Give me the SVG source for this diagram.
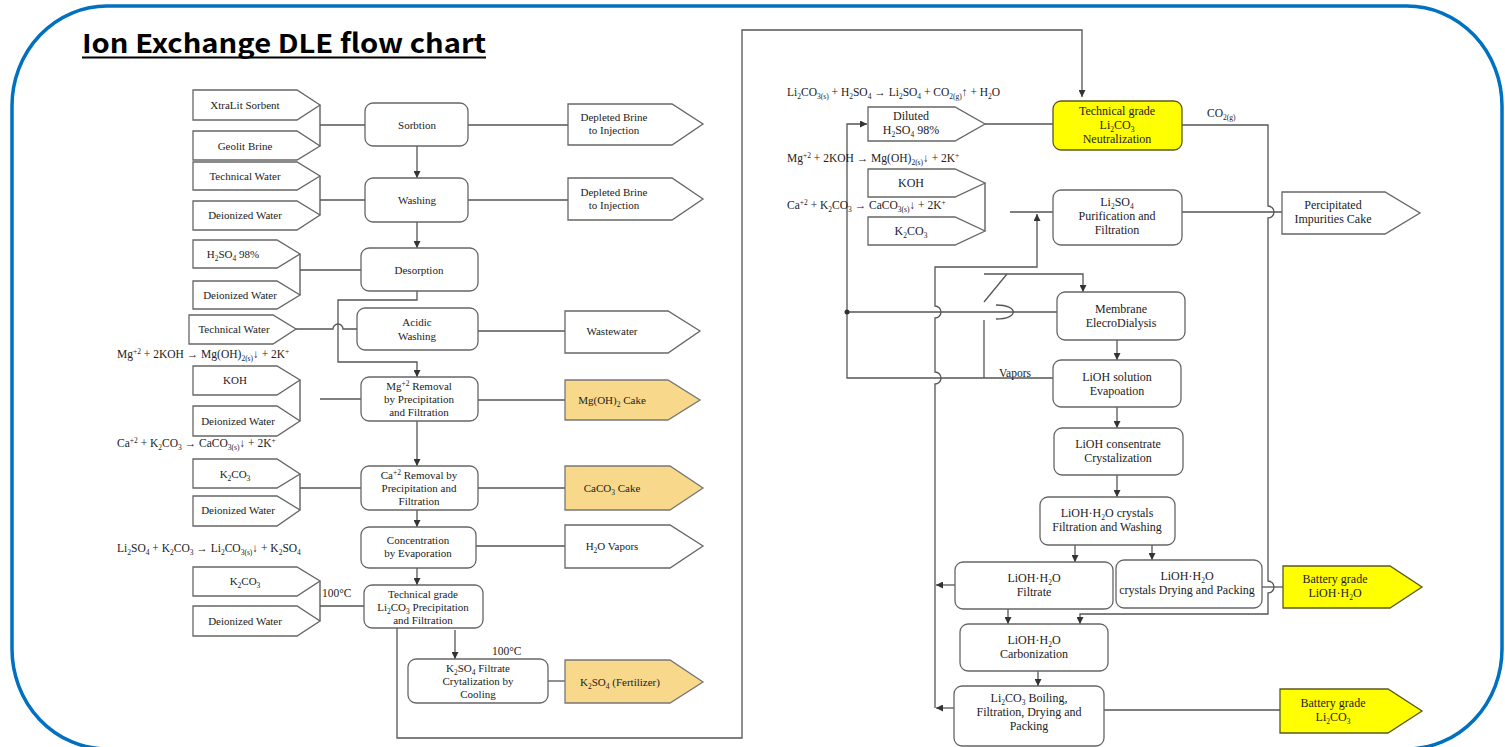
<svg xmlns="http://www.w3.org/2000/svg" width="1505" height="747" viewBox="0 0 1505 747">
<defs>
<style>
.ln{fill:none;stroke:#555;stroke-width:1.3}
.bx{fill:#fff;stroke:#666;stroke-width:1.3}
.pt{fill:#fff;stroke:#666;stroke-width:1.3}
.tan{fill:#F8D98C;stroke:#777;stroke-width:1.3}
.yl{fill:#FFFF00;stroke:#5a5a1e;stroke-width:1.3}
.t{font-family:"Liberation Serif","Times New Roman",serif;font-size:11px;fill:#222;text-anchor:middle}
.r{font-size:12px}
.eq{font-family:"Liberation Serif","Times New Roman",serif;font-size:11.5px;fill:#222}
.s{font-size:7.5px;baseline-shift:-2.5px}
.p{font-size:7.5px;baseline-shift:4px}
.title{font-family:"Noto Sans CJK KR","Noto Sans",sans-serif;font-weight:bold;font-size:26px;fill:#000}
</style>
<marker id="ar" viewBox="0 0 10 10" refX="10" refY="5" markerWidth="7" markerHeight="7" markerUnits="userSpaceOnUse" orient="auto">
<path d="M0,0 L10,5 L0,10 z" fill="#333"/>
</marker>
</defs>
<rect width="1505" height="747" fill="#fff"/>
<rect x="12" y="6" width="1490" height="743" rx="95" ry="100" fill="none" stroke="#0070C0" stroke-width="3.5"/>
<g id="title">
<text class="title" x="82" y="53" textLength="404" lengthAdjust="spacingAndGlyphs">Ion Exchange DLE flow chart</text>
<line x1="82" y1="57.5" x2="486" y2="57.5" stroke="#000" stroke-width="2"/>
</g>

<g id="connectors">
<path class="ln" d="M320 105 V146 M320 125 H365"/>
<path class="ln" d="M468 125 H568"/>
<path class="ln" d="M417 146 V178" marker-end="url(#ar)"/>
<path class="ln" d="M320 176 V215 M320 200 H365"/>
<path class="ln" d="M468 200 H568"/>
<path class="ln" d="M417 222 V248" marker-end="url(#ar)"/>
<path class="ln" d="M300 254 V295 M300 270 H361"/>
<path class="ln" d="M417 291 V300 H338 V362 H417 V377" marker-end="url(#ar)"/>
<path class="ln" d="M296 329 H333 A5 5 0 0 1 343 329 H357"/>
<path class="ln" d="M478 331 H565"/>
<path class="ln" d="M300 380 V421 M320 399 H361"/>
<path class="ln" d="M478 400 H565"/>
<path class="ln" d="M417 421 V466" marker-end="url(#ar)"/>
<path class="ln" d="M300 474 V510 M300 488 H361"/>
<path class="ln" d="M478 488 H565"/>
<path class="ln" d="M417 510 V527" marker-end="url(#ar)"/>
<path class="ln" d="M476 546 H565"/>
<path class="ln" d="M417 568 V585" marker-end="url(#ar)"/>
<path class="ln" d="M320 581 V621 M320 606 H364"/>
<path class="ln" d="M455 630 V659" marker-end="url(#ar)"/>
<path class="ln" d="M548 681 H565"/>
<path class="ln" d="M397 628 V738 H742 V30 H1082 V97" marker-end="url(#ar)"/>

<path class="ln" d="M985 124 H1053"/>
<path class="ln" d="M1182 125 H1268 V206 A6 6 0 0 1 1268 218 V581 A6 6 0 0 1 1268 593 V614 H1080 V624" marker-end="url(#ar)"/>
<path class="ln" d="M1182 212 H1283"/>
<path class="ln" d="M985 183 V231"/>
<path class="ln" d="M1010 212 H1053"/>
<path class="ln" d="M935 708 V384 A6 6 0 0 0 935 372 V318 A6 6 0 0 0 935 306 V267 H1037 V214" marker-end="url(#ar)"/>
<path class="ln" d="M955 585 H936" marker-end="url(#ar)"/>
<path class="ln" d="M954 708 H936" marker-end="url(#ar)"/>
<path class="ln" d="M1053 378 H847 V124 H867" marker-end="url(#ar)"/>
<path class="ln" d="M847 312 H1057"/>
<path class="ln" d="M996 305 C1019 305 1019 319 996 319"/>
<circle cx="847" cy="312" r="2.5" fill="#333"/>
<path class="ln" d="M984 320 V378"/>
<path class="ln" d="M984 302 L1007 274"/>
<path class="ln" d="M984 274 H1083 V292" marker-end="url(#ar)"/>
<path class="ln" d="M1117 340 V360" marker-end="url(#ar)"/>
<path class="ln" d="M1117 407 V428" marker-end="url(#ar)"/>
<path class="ln" d="M1117 475 V497" marker-end="url(#ar)"/>
<path class="ln" d="M1075 545 V562" marker-end="url(#ar)"/>
<path class="ln" d="M1152 545 V560" marker-end="url(#ar)"/>
<path class="ln" d="M1262 587 H1283"/>
<path class="ln" d="M1008 609 V624" marker-end="url(#ar)"/>
<path class="ln" d="M1038 671 V686" marker-end="url(#ar)"/>
<path class="ln" d="M1104 710 H1280"/>
</g>

<g id="in-xtralit"><polygon class="pt" points="193,90 297,90 320,105 297,120 193,120"/><text class="t" x="245" y="109">XtraLit Sorbent</text></g>
<g id="in-geolit"><polygon class="pt" points="193,131 297,131 320,146 297,160 193,160"/><text class="t" x="245" y="150">Geolit Brine</text></g>
<g id="in-techwater1"><polygon class="pt" points="193,162 297,162 320,176 297,190 193,190"/><text class="t" x="245" y="180">Technical Water</text></g>
<g id="in-deion1"><polygon class="pt" points="193,201 297,201 320,215 297,230 193,230"/><text class="t" x="245" y="219">Deionized Water</text></g>
<g id="in-h2so4"><polygon class="pt" points="193,240 277,240 300,254 277,268 193,268"/><text class="t" x="233" y="258">H<tspan class="s">2</tspan>SO<tspan class="s">4</tspan> 98%</text></g>
<g id="in-deion2"><polygon class="pt" points="193,281 277,281 300,295 277,309 193,309"/><text class="t" x="240" y="299">Deionized Water</text></g>
<g id="in-techwater2"><polygon class="pt" points="189,315 273,315 296,329 273,344 189,344"/><text class="t" x="234" y="333">Technical Water</text></g>
<g id="in-koh1"><polygon class="pt" points="193,366 277,366 300,380 277,395 193,395"/><text class="t" x="235" y="384">KOH</text></g>
<g id="in-deion3"><polygon class="pt" points="193,406 277,406 300,421 277,436 193,436"/><text class="t" x="238" y="425">Deionized Water</text></g>
<g id="in-k2co3-1"><polygon class="pt" points="193,459 277,459 300,474 277,488 193,488"/><text class="t" x="235" y="478">K<tspan class="s">2</tspan>CO<tspan class="s">3</tspan></text></g>
<g id="in-deion4"><polygon class="pt" points="193,496 277,496 300,510 277,526 193,526"/><text class="t" x="238" y="514">Deionized Water</text></g>
<g id="in-k2co3-2"><polygon class="pt" points="193,567 297,567 320,581 297,596 193,596"/><text class="t" x="245" y="585">K<tspan class="s">2</tspan>CO<tspan class="s">3</tspan></text></g>
<g id="in-deion5"><polygon class="pt" points="193,606 297,606 320,621 297,636 193,636"/><text class="t" x="245" y="625">Deionized Water</text></g>

<g id="sorbtion"><rect class="bx" x="365" y="103" width="103" height="43" rx="8"/><text class="t" x="417" y="129">Sorbtion</text></g>
<g id="washing"><rect class="bx" x="365" y="178" width="103" height="44" rx="8"/><text class="t" x="417" y="204">Washing</text></g>
<g id="desorption"><rect class="bx" x="361" y="248" width="117" height="43" rx="8"/><text class="t" x="419" y="274">Desorption</text></g>
<g id="acidic"><rect class="bx" x="357" y="308" width="121" height="42" rx="8"/><text class="t" x="417" y="326">Acidic</text><text class="t" x="417" y="340">Washing</text></g>
<g id="mg-removal"><rect class="bx" x="361" y="377" width="117" height="44" rx="8"/><text class="t" x="419" y="390">Mg<tspan class="p">+2</tspan> Removal</text><text class="t" x="419" y="403">by Precipitation</text><text class="t" x="419" y="416">and Filtration</text></g>
<g id="ca-removal"><rect class="bx" x="361" y="466" width="117" height="44" rx="8"/><text class="t" x="419" y="479">Ca<tspan class="p">+2</tspan> Removal by</text><text class="t" x="419" y="492">Precipitation and</text><text class="t" x="419" y="505">Filtration</text></g>
<g id="concentration"><rect class="bx" x="361" y="527" width="115" height="41" rx="8"/><text class="t" x="418" y="544">Concentration</text><text class="t" x="418" y="557">by Evaporation</text></g>
<g id="tech-precip"><rect class="bx" x="364" y="585" width="119" height="43" rx="8"/><text class="t" x="423" y="598">Technical grade</text><text class="t" x="423" y="611">Li<tspan class="s">2</tspan>CO<tspan class="s">3</tspan> Precipitation</text><text class="t" x="423" y="624">and Filtration</text></g>
<g id="k2so4-cryst"><rect class="bx" x="408" y="659" width="140" height="44" rx="8"/><text class="t" x="478" y="672">K<tspan class="s">2</tspan>SO<tspan class="s">4</tspan> Filtrate</text><text class="t" x="478" y="685">Crytalization by</text><text class="t" x="478" y="698">Cooling</text></g>

<g id="out-brine1"><polygon class="pt" points="568,104 672,104 703,124 672,145 568,145"/><text class="t" x="614" y="121">Depleted Brine</text><text class="t" x="614" y="134">to Injection</text></g>
<g id="out-brine2"><polygon class="pt" points="568,178 672,178 703,199 672,220 568,220"/><text class="t" x="614" y="196">Depleted Brine</text><text class="t" x="614" y="209">to Injection</text></g>
<g id="out-wastewater"><polygon class="pt" points="565,311 668,311 700,331 668,353 565,353"/><text class="t" x="612" y="335">Wastewater</text></g>
<g id="out-mgoh2"><polygon class="tan" points="565,380 668,380 700,400 668,420 565,420"/><text class="t" x="612" y="404">Mg(OH)<tspan class="s">2</tspan> Cake</text></g>
<g id="out-caco3"><polygon class="tan" points="565,466 670,466 703,488 670,510 565,510"/><text class="t" x="612" y="492">CaCO<tspan class="s">3</tspan> Cake</text></g>
<g id="out-h2o"><polygon class="pt" points="565,525 670,525 703,546 670,568 565,568"/><text class="t" x="612" y="550">H<tspan class="s">2</tspan>O Vapors</text></g>
<g id="out-k2so4"><polygon class="tan" points="565,660 670,660 703,682 670,703 565,703"/><text class="t" x="620" y="686">K<tspan class="s">2</tspan>SO<tspan class="s">4</tspan> (Fertilizer)</text></g>

<g id="labels-left">
<text class="eq" x="117" y="358">Mg<tspan class="p">+2</tspan> + 2KOH → Mg(OH)<tspan class="s">2(s)</tspan>↓ + 2K<tspan class="p">+</tspan></text>
<text class="eq" x="117" y="447">Ca<tspan class="p">+2</tspan> + K<tspan class="s">2</tspan>CO<tspan class="s">3</tspan> → CaCO<tspan class="s">3(s)</tspan>↓ + 2K<tspan class="p">+</tspan></text>
<text class="eq" x="117" y="552">Li<tspan class="s">2</tspan>SO<tspan class="s">4</tspan> + K<tspan class="s">2</tspan>CO<tspan class="s">3</tspan> → Li<tspan class="s">2</tspan>CO<tspan class="s">3(s)</tspan>↓ + K<tspan class="s">2</tspan>SO<tspan class="s">4</tspan></text>
<text class="eq" x="322" y="597">100°C</text>
<text class="eq" x="492" y="655">100°C</text>
</g>

<g id="in-diluted"><polygon class="pt" points="868,107 955,107 985,124 955,141 868,141"/><text class="t r" x="911" y="120">Diluted</text><text class="t r" x="911" y="134">H<tspan class="s">2</tspan>SO<tspan class="s">4</tspan> 98%</text></g>
<g id="in-koh2"><polygon class="pt" points="868,169 955,169 985,183 955,197 868,197"/><text class="t r" x="911" y="187">KOH</text></g>
<g id="in-k2co3-3"><polygon class="pt" points="868,217 955,217 985,231 955,245 868,245"/><text class="t r" x="911" y="235">K<tspan class="s">2</tspan>CO<tspan class="s">3</tspan></text></g>

<g id="neutralization"><rect class="yl" x="1053" y="101" width="129" height="49" rx="8"/><text class="t r" x="1117" y="115">Technical grade</text><text class="t r" x="1117" y="129">Li<tspan class="s">2</tspan>CO<tspan class="s">3</tspan></text><text class="t r" x="1117" y="143">Neutralization</text></g>
<g id="li2so4-purif"><rect class="bx" x="1053" y="190" width="129" height="55" rx="8"/><text class="t r" x="1117" y="206">Li<tspan class="s">2</tspan>SO<tspan class="s">4</tspan></text><text class="t r" x="1117" y="220">Purification and</text><text class="t r" x="1117" y="234">Filtration</text></g>
<g id="membrane"><rect class="bx" x="1057" y="292" width="128" height="48" rx="8"/><text class="t r" x="1121" y="313">Membrane</text><text class="t r" x="1121" y="327">ElecroDialysis</text></g>
<g id="evaporation"><rect class="bx" x="1053" y="360" width="128" height="47" rx="8"/><text class="t r" x="1117" y="381">LiOH solution</text><text class="t r" x="1117" y="395">Evapoation</text></g>
<g id="crystalization"><rect class="bx" x="1054" y="428" width="129" height="47" rx="8"/><text class="t r" x="1118" y="448">LiOH consentrate</text><text class="t r" x="1118" y="462">Crystalization</text></g>
<g id="filt-wash"><rect class="bx" x="1040" y="497" width="135" height="48" rx="8"/><text class="t r" x="1107" y="517">LiOH·H<tspan class="s">2</tspan>O crystals</text><text class="t r" x="1107" y="531">Filtration and Washing</text></g>
<g id="filtrate"><rect class="bx" x="955" y="562" width="158" height="47" rx="8"/><text class="t r" x="1034" y="582">LiOH·H<tspan class="s">2</tspan>O</text><text class="t r" x="1034" y="596">Filtrate</text></g>
<g id="drying"><rect class="bx" x="1116" y="560" width="146" height="48" rx="8"/><text class="t r" x="1187" y="580">LiOH·H<tspan class="s">2</tspan>O</text><text class="t r" x="1187" y="594" font-size="12.5">crystals Drying and Packing</text></g>
<g id="carbonization"><rect class="bx" x="960" y="624" width="148" height="47" rx="8"/><text class="t r" x="1034" y="644">LiOH·H<tspan class="s">2</tspan>O</text><text class="t r" x="1034" y="658">Carbonization</text></g>
<g id="boiling"><rect class="bx" x="954" y="686" width="150" height="60" rx="8"/><text class="t r" x="1029" y="702">Li<tspan class="s">2</tspan>CO<tspan class="s">3</tspan> Boiling,</text><text class="t r" x="1029" y="716">Filtration, Drying and</text><text class="t r" x="1029" y="730">Packing</text></g>

<g id="out-impurities"><polygon class="pt" points="1282,192 1385,192 1420,213 1385,234 1282,234"/><text class="t r" x="1333" y="209">Percipitated</text><text class="t r" x="1333" y="223">Impurities Cake</text></g>
<g id="out-battery-lioh"><polygon class="yl" points="1283,566 1390,566 1422,587 1390,608 1283,608"/><text class="t r" x="1335" y="583">Battery grade</text><text class="t r" x="1335" y="597">LiOH·H<tspan class="s">2</tspan>O</text></g>
<g id="out-battery-li2co3"><polygon class="yl" points="1280,689 1388,689 1422,711 1388,733 1280,733"/><text class="t r" x="1333" y="707">Battery grade</text><text class="t r" x="1333" y="721">Li<tspan class="s">2</tspan>CO<tspan class="s">3</tspan></text></g>

<g id="labels-right">
<text class="eq" x="787" y="96">Li<tspan class="s">2</tspan>CO<tspan class="s">3(s)</tspan> + H<tspan class="s">2</tspan>SO<tspan class="s">4</tspan> → Li<tspan class="s">2</tspan>SO<tspan class="s">4</tspan> + CO<tspan class="s">2(g)</tspan>↑ + H<tspan class="s">2</tspan>O</text>
<text class="eq" x="787" y="162">Mg<tspan class="p">+2</tspan> + 2KOH → Mg(OH)<tspan class="s">2(s)</tspan>↓ + 2K<tspan class="p">+</tspan></text>
<text class="eq" x="787" y="209">Ca<tspan class="p">+2</tspan> + K<tspan class="s">2</tspan>CO<tspan class="s">3</tspan> → CaCO<tspan class="s">3(s)</tspan>↓ + 2K<tspan class="p">+</tspan></text>
<text class="eq" x="1207" y="117">CO<tspan class="s">2(g)</tspan></text>
<text class="eq" x="999" y="377">Vapors</text>
</g>
</svg>
